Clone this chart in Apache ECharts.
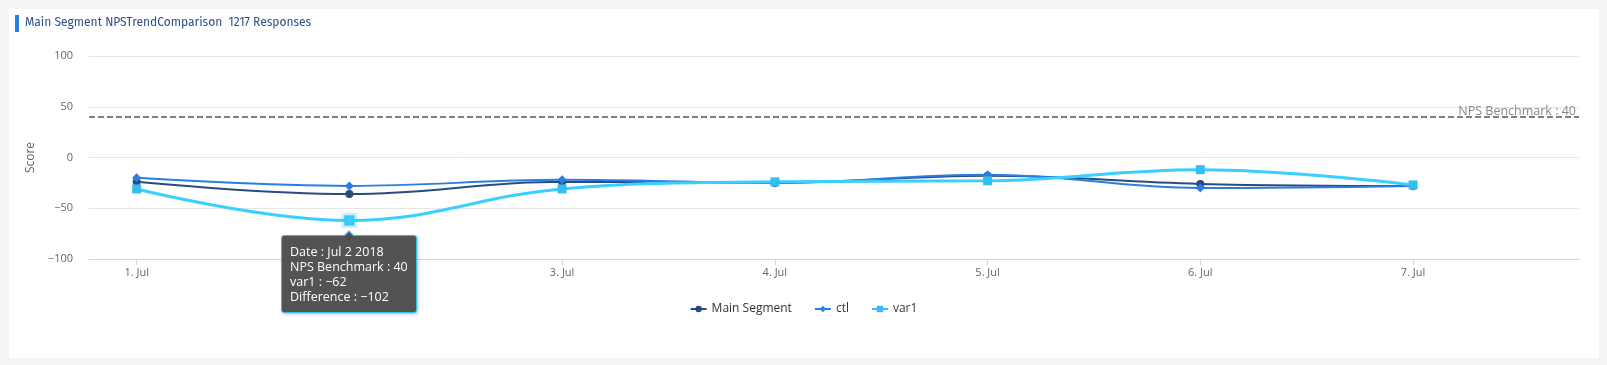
<!DOCTYPE html>
<html>
<head>
<meta charset="utf-8">
<script src="https://cdn.jsdelivr.net/npm/echarts@6/dist/echarts.min.js"></script>
<style>
html,body{margin:0;padding:0;background:#f4f4f4;}
#c{width:1607px;height:365px;}
</style>
</head>
<body>
<div id="c"></div>
<script>
const days = [1, 2, 3, 4, 5, 6, 7];
const dateLabels = ['Jul 1 2018','Jul 2 2018','Jul 3 2018','Jul 4 2018','Jul 5 2018','Jul 6 2018','Jul 7 2018'];
const mainSegment = [-24, -36, -24, -25, -18, -26, -28];
const ctl = [-20, -28, -22, -25, -17, -30, -28];
const var1 = [-31, -62, -31, -24, -23, -12, -27];
const benchmark = 40;
const yTicks = [-100, -50, 0, 50, 100];
const titleText = 'Main Segment NPSTrendComparison  1217 Responses';

const pairs = arr => days.map((d, i) => [d, arr[i]]);

const chart = echarts.init(document.getElementById('c'), null, {renderer: 'canvas'});
const FONT = '"Open Sans", "Noto Sans", sans-serif';

chart.setOption({
  animation: false,
  backgroundColor: 'transparent',
  graphic: [
    {type: 'rect', z: -10, shape: {x: 9, y: 9, width: 1590, height: 349}, style: {fill: '#ffffff'}, silent: true},
    {type: 'rect', shape: {x: 15, y: 15, width: 4, height: 17}, style: {fill: '#2a7de1'}, silent: true},
    {type: 'text', left: 25, top: 17, style: {text: titleText, fill: '#2d4f8a', font: '12px "Fira Sans", "Noto Sans", sans-serif'}, silent: true}
  ],
  grid: {left: 89, right: 28, top: 56, bottom: 106, containLabel: false},
  legend: {
    data: ['Main Segment', 'ctl', 'var1'],
    top: 298,
    left: 'center',
    itemWidth: 16,
    itemHeight: 8,
    itemGap: 22,
    textStyle: {color: '#333', fontSize: 12, fontFamily: FONT}
  },
  tooltip: {
    trigger: 'item',
    alwaysShowContent: true,
    position: 'bottom',
    backgroundColor: 'rgba(77,77,77,0.97)',
    borderColor: '#35bdf0',
    borderWidth: 1,
    borderRadius: 3,
    padding: [8, 8],
    textStyle: {color: '#fff', fontSize: 12.5, fontFamily: FONT},
    extraCssText: 'line-height:15px;box-shadow:1px 1px 3px rgba(0,0,0,0.3);',
    formatter: function (p) {
      const i = p.dataIndex;
      const v = p.value[1];
      return 'Date : ' + dateLabels[i] + '<br/>NPS Benchmark : ' + benchmark +
        '<br/>' + p.seriesName + ' : ' + String(v).replace('-', '\u2212') +
        '<br/>Difference : ' + String(v - benchmark).replace('-', '\u2212');
    }
  },
  xAxis: {
    type: 'value',
    min: 0.776,
    max: 7.78,
    splitLine: {show: false},
    axisLine: {show: true, onZero: false, lineStyle: {color: '#ccd6eb', width: 1}},
    axisTick: {show: true, length: 6, lineStyle: {color: '#ccd6eb'}, customValues: days},
    axisLabel: {customValues: days, color: '#666', fontSize: 11, fontFamily: FONT, margin: 8,
      formatter: v => v + '. Jul'}
  },
  yAxis: {
    type: 'value',
    min: -100,
    max: 100,
    interval: 50,
    name: 'Score',
    nameLocation: 'middle',
    nameGap: 52,
    nameRotate: 90,
    nameTextStyle: {color: '#666', fontSize: 12, fontFamily: FONT},
    axisLine: {show: false},
    axisTick: {show: false},
    axisLabel: {color: '#666', fontSize: 11, fontFamily: FONT, margin: 16,
      formatter: v => String(v).replace('-', '\u2212')},
    splitLine: {lineStyle: {color: '#e6e6e6', width: 1}}
  },
  series: [
    {
      name: 'Main Segment', type: 'line', data: pairs(mainSegment), smooth: 0.4,
      symbol: 'circle', symbolSize: 8, color: '#2b4b7e',
      lineStyle: {width: 2}, itemStyle: {color: '#2b4b7e'},
      emphasis: {disabled: true},
      markLine: {
        silent: true, symbol: 'none',
        lineStyle: {type: [6, 3], color: '#808080', width: 2},
        label: {show: true, position: 'insideEndTop', formatter: 'NPS Benchmark : ' + benchmark,
          color: '#888', fontSize: 12.5, fontFamily: FONT, distance: [3, -1]},
        data: [{yAxis: benchmark}]
      },
      z: 3
    },
    {
      name: 'ctl', type: 'line', data: pairs(ctl), smooth: 0.4,
      symbol: 'diamond', symbolSize: 9, color: '#2a7de1',
      lineStyle: {width: 2}, itemStyle: {color: '#2a7de1'},
      emphasis: {disabled: true},
      z: 4
    },
    {
      name: 'var1', type: 'line', data: pairs(var1), smooth: 0.4,
      symbol: 'rect', symbolSize: 9, color: '#35bdf0',
      lineStyle: {width: 3}, itemStyle: {color: '#35bdf0'},
      emphasis: {scale: 1.15, lineStyle: {width: 3}, itemStyle: {borderColor: 'rgba(53,189,240,0.25)', borderWidth: 5}},
      z: 5
    }
  ]
});

chart.dispatchAction({type: 'highlight', seriesIndex: 2, dataIndex: 1});
chart.dispatchAction({type: 'showTip', seriesIndex: 2, dataIndex: 1});
</script>
</body>
</html>
